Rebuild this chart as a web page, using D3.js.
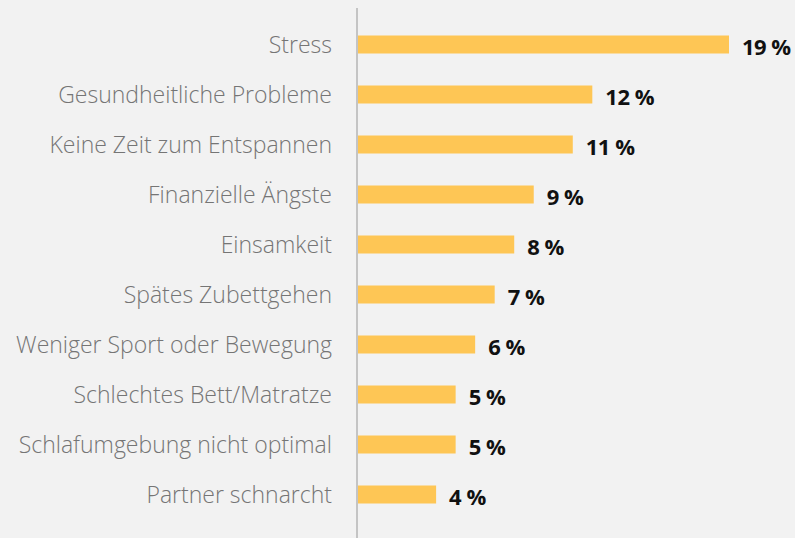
<!DOCTYPE html>
<html>
<head>
<meta charset="utf-8">
<script src="https://cdn.jsdelivr.net/npm/d3@7"></script>
<style>
    html, body { margin: 0; padding: 0; background: #f2f2f2; }
    svg { display: block; }
</style>
</head>
<body>
<svg id="chart"></svg>
<script>
const WIDTH = 795,
    HEIGHT = 538,
    AXIS_X = 357;

const categories = [
    "Stress",
    "Gesundheitliche Probleme",
    "Keine Zeit zum Entspannen",
    "Finanzielle Ängste",
    "Einsamkeit",
    "Spätes Zubettgehen",
    "Weniger Sport oder Bewegung",
    "Schlechtes Bett/Matratze",
    "Schlafumgebung nicht optimal",
    "Partner schnarcht"
];
const values = [19, 12, 11, 9, 8, 7, 6, 5, 5, 4];

const svg = d3.select("#chart")
    .attr("width", WIDTH)
    .attr("height", HEIGHT);

svg.append("rect")
    .attr("width", WIDTH)
    .attr("height", HEIGHT)
    .attr("fill", "#f2f2f2");

const x = d3.scaleLinear()
    .domain([0, 19])
    .range([AXIS_X + 1, 729]);

const y = d3.scaleBand()
    .domain(categories)
    .range([19.5, 519.5])
    .paddingInner(0.64)
    .paddingOuter(0.32);

// category labels
svg.append("g")
    .selectAll("text")
    .data(categories)
    .join("text")
    .attr("x", 332)
    .attr("y", (d) => y(d) + y.bandwidth() / 2)
    .attr("dy", "0.35em")
    .attr("text-anchor", "end")
    .attr("font-family", "'Open Sans', sans-serif")
    .attr("font-weight", 300)
    .attr("font-size", 23)
    .attr("fill", "#757575")
    .text((d) => d);

// bars
svg.append("g")
    .selectAll("rect")
    .data(values)
    .join("rect")
    .attr("x", x(0))
    .attr("y", (d, i) => y(categories[i]))
    .attr("width", (d) => x(d) - x(0))
    .attr("height", y.bandwidth())
    .attr("fill", "#fec655");

// value labels
svg.append("g")
    .selectAll("text")
    .data(values)
    .join("text")
    .attr("x", (d) => x(d) + 13)
    .attr("y", (d, i) => y(categories[i]) + y.bandwidth() / 2 + 3)
    .attr("dy", "0.35em")
    .attr("font-family", "'Open Sans', sans-serif")
    .attr("font-weight", "bold")
    .attr("font-size", 22)
    .attr("letter-spacing", -0.5)
    .attr("fill", "#111")
    .text((d) => d + " %");

// vertical axis line
svg.append("line")
    .attr("x1", AXIS_X)
    .attr("x2", AXIS_X)
    .attr("y1", 8)
    .attr("y2", HEIGHT)
    .attr("stroke", "#b5b5b5")
    .attr("stroke-width", 1.5);
</script>
</body>
</html>
